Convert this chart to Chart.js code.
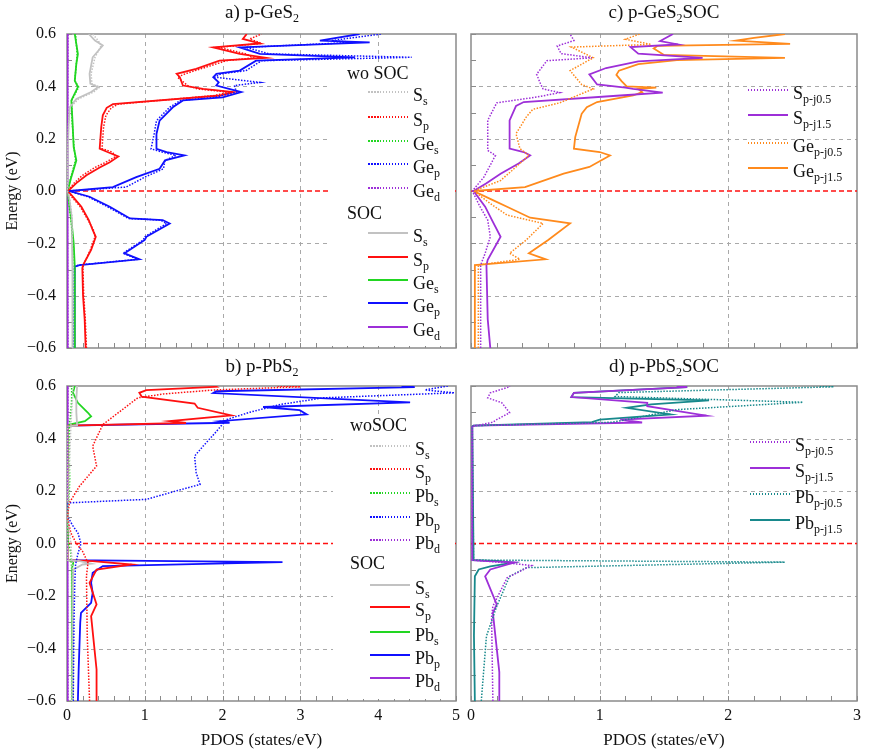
<!DOCTYPE html>
<html>
<head>
<meta charset="utf-8">
<script src="https://cdn.jsdelivr.net/npm/chart.js@4.4.1/dist/chart.umd.min.js"></script>
<style>
  body { margin: 0; background: #fff; }
  #page { position: relative; width: 869px; height: 755px; overflow: hidden; background: #fff;
          font-family: "Liberation Serif", "Times New Roman", serif; color: #111; }
  canvas { position: absolute; }
  .title { position: absolute; font-size: 19px; line-height: 19px; white-space: nowrap; transform: translateX(-50%); }
  .title sub, .lg sub { font-size: 12px; vertical-align: baseline; position: relative; top: 4px; }
  .lgbox { position: absolute; background: #fff; }
  .lg { position: absolute; font-size: 18px; line-height: 18px; white-space: nowrap; }
  .swatch { position: absolute; width: 40px; }
</style>
</head>
<body>
<div id="page">
  <canvas id="chartA" width="466" height="334" style="left:0;top:24px"></canvas>
  <canvas id="chartB" width="466" height="379" style="left:0;top:376px"></canvas>
  <canvas id="chartC" width="406" height="334" style="left:461px;top:24px"></canvas>
  <canvas id="chartD" width="406" height="379" style="left:461px;top:376px"></canvas>
</div>
<script>
// ============================================
// DATA  (energy in eV, PDOS in states/eV)
// ============================================
const fermiLevel = 0;
const pdosMaxLeft = 5;
const pdosMaxRight = 3;

// --- a) p-GeS2 : wo SOC (dotted) and SOC (solid) ---
const aE_Ss   = [-0.6, -0.3, -0.1, -0.03, 0, 0.05, 0.15, 0.25, 0.32, 0.352, 0.378, 0.397, 0.41, 0.448, 0.511, 0.556, 0.575, 0.6];
const aSs_wo  = [0.075, 0.075, 0.065, 0.035, 0.004, 0.008, 0.012, 0.02, 0.04, 0.15, 0.34, 0.42, 0.32, 0.31, 0.36, 0.44, 0.4, 0.33];
const aSs_soc = [0.07, 0.07, 0.06, 0.03, 0.004, 0.008, 0.012, 0.02, 0.034, 0.12, 0.31, 0.40, 0.3, 0.29, 0.33, 0.46, 0.36, 0.28];

const aE_Sp   = [-0.6, -0.49, -0.40, -0.295, -0.283, -0.225, -0.175, -0.149, -0.111, -0.06, -0.022, 0, 0.03, 0.06, 0.09, 0.11, 0.132, 0.149, 0.162, 0.244, 0.289, 0.318, 0.332, 0.365, 0.378, 0.39, 0.403, 0.435, 0.448, 0.467, 0.498, 0.509, 0.524, 0.549, 0.564, 0.581, 0.6];
const aSp_wo  = [0.25, 0.235, 0.215, 0.205, 0.21, 0.3, 0.36, 0.34, 0.27, 0.17, 0.06, 0.01, 0.09, 0.2, 0.36, 0.5, 0.63, 0.58, 0.45, 0.47, 0.5, 0.57, 0.66, 1.9, 2.08, 1.68, 1.55, 1.42, 1.52, 1.72, 2.05, 2.4, 2.3, 1.95, 2.5, 2.35, 2.5];
const aSp_soc = [0.24, 0.227, 0.206, 0.197, 0.206, 0.31, 0.37, 0.33, 0.28, 0.185, 0.077, 0.013, 0.12, 0.25, 0.42, 0.55, 0.66, 0.52, 0.42, 0.44, 0.46, 0.51, 0.59, 1.97, 2.14, 1.75, 1.49, 1.45, 1.41, 1.66, 1.96, 2.56, 2.22, 1.88, 2.48, 2.26, 2.31];

const aE_Ges   = [-0.6, -0.29, -0.2, -0.11, -0.04, 0, 0.054, 0.117, 0.168, 0.27, 0.346, 0.397, 0.422, 0.486, 0.524, 0.6];
const aGes_wo  = [0.095, 0.095, 0.08, 0.05, 0.02, 0.008, 0.05, 0.11, 0.09, 0.065, 0.06, 0.15, 0.1, 0.12, 0.13, 0.11];
const aGes_soc = [0.1, 0.1, 0.086, 0.056, 0.026, 0.008, 0.056, 0.12, 0.086, 0.07, 0.056, 0.14, 0.1, 0.12, 0.14, 0.1];

const aE_Gep   = [-0.6, -0.289, -0.283, -0.261, -0.238, -0.187, -0.175, -0.124, -0.111, -0.105, -0.06, -0.022, 0, 0.015, 0.053, 0.085, 0.117, 0.136, 0.149, 0.161, 0.218, 0.269, 0.32, 0.346, 0.358, 0.378, 0.403, 0.415, 0.435, 0.448, 0.46, 0.498, 0.511, 0.524, 0.549, 0.568, 0.575, 0.6];
const aGep_wo  = [0.085, 0.095, 0.15, 0.91, 0.72, 0.98, 1.0, 1.28, 1.2, 0.79, 0.52, 0.27, 0.02, 0.76, 1.0, 1.24, 1.26, 1.4, 1.22, 1.08, 1.12, 1.15, 1.32, 1.46, 1.9, 2.18, 2.15, 2.48, 1.9, 1.98, 2.3, 2.5, 4.43, 2.6, 2.3, 3.7, 3.4, 4.04];
const aGep_soc = [0.09, 0.099, 0.16, 0.93, 0.74, 1.0, 1.02, 1.32, 1.23, 0.81, 0.55, 0.29, 0.03, 0.59, 0.89, 1.19, 1.26, 1.51, 1.28, 1.15, 1.15, 1.19, 1.36, 1.49, 2.0, 2.24, 1.92, 1.95, 1.88, 1.92, 2.22, 2.43, 3.70, 2.48, 2.22, 3.89, 3.25, 3.76];

const aE_Ged   = [-0.6, 0, 0.6];
const aGed_wo  = [0.012, 0.004, 0.012];
const aGed_soc = [0.012, 0.004, 0.012];

// --- b) p-PbS2 ---
const bE_Ss_wo  = [-0.6, -0.1, 0, 0.1, 0.16, 0.3, 0.45, 0.6];
const bSs_wo    = [0.06, 0.07, 0.05, 0.01, 0.02, 0.03, 0.05, 0.08];
const bE_Ss_soc = [-0.6, -0.2, -0.1, -0.08, -0.077, -0.066, -0.063, 0.446, 0.45, 0.5, 0.55, 0.6];
const bSs_soc   = [0.07, 0.075, 0.08, 0.2, 0.31, 0.15, 0.01, 0.01, 0.13, 0.12, 0.12, 0.13];

const bE_Sp_wo  = [-0.6, -0.35, -0.124, -0.074, -0.03, 0, 0.04, 0.079, 0.1, 0.155, 0.218, 0.295, 0.371, 0.453, 0.555, 0.57, 0.585, 0.597, 0.6];
const bSp_wo    = [0.29, 0.26, 0.25, 0.27, 0.2, 0.12, 0.05, 0.02, 0.005, 0.03, 0.16, 0.38, 0.33, 0.46, 0.91, 1.25, 1.9, 3.0, 2.7];
const bE_Sp_soc = [-0.6, -0.48, -0.277, -0.232, -0.15, -0.099, -0.08, -0.067, -0.063, 0.446, 0.449, 0.459, 0.466, 0.488, 0.517, 0.533, 0.559, 0.574, 0.584, 0.597, 0.6];
const bSp_soc   = [0.38, 0.38, 0.31, 0.38, 0.29, 0.38, 0.83, 0.33, 0.01, 0.01, 0.02, 1.53, 1.32, 2.11, 1.68, 1.64, 0.96, 0.93, 1.02, 1.92, 1.9];

const bE_Pbs_wo  = [-0.6, -0.1, -0.036, 0, 0.05, 0.1, 0.16, 0.2, 0.25, 0.3, 0.37, 0.45, 0.5, 0.55, 0.6];
const bPbs_wo    = [0.06, 0.06, 0.05, 0.02, 0.01, 0.005, 0.02, 0.03, 0.035, 0.03, 0.03, 0.03, 0.05, 0.06, 0.06];
const bE_Pbs_soc = [-0.6, -0.2, -0.09, -0.074, -0.066, -0.063, 0.446, 0.453, 0.466, 0.484, 0.498, 0.536, 0.574, 0.6];
const bPbs_soc   = [0.07, 0.07, 0.065, 0.08, 0.05, 0.01, 0.01, 0.034, 0.23, 0.31, 0.27, 0.14, 0.077, 0.1];

const bE_Pbp_wo  = [-0.6, -0.3, -0.15, -0.08, -0.04, 0, 0.04, 0.07, 0.091, 0.105, 0.15, 0.155, 0.162, 0.168, 0.2, 0.225, 0.27, 0.333, 0.371, 0.42, 0.472, 0.5, 0.53, 0.555, 0.574, 0.585, 0.6];
const bPbp_wo    = [0.08, 0.09, 0.1, 0.11, 0.14, 0.18, 0.14, 0.07, 0.03, 0.004, 0.004, 0.03, 0.55, 1.02, 1.4, 1.71, 1.66, 1.64, 1.75, 1.9, 2.05, 2.35, 2.75, 3.3, 4.98, 4.6, 4.9];
const bE_Pbp_soc = [-0.6, -0.48, -0.302, -0.264, -0.226, -0.188, -0.15, -0.112, -0.086, -0.071, -0.063, 0.446, 0.449, 0.46, 0.466, 0.492, 0.508, 0.52, 0.538, 0.573, 0.58, 0.596, 0.6];
const bPbp_soc   = [0.14, 0.15, 0.17, 0.18, 0.31, 0.33, 0.31, 0.33, 0.46, 2.77, 0.01, 0.01, 0.02, 2.09, 1.96, 3.08, 2.99, 2.52, 4.41, 1.88, 1.92, 4.47, 4.3];

const bE_Pbd   = [-0.6, 0, 0.6];
const bPbd_wo  = [0.012, 0.004, 0.012];
const bPbd_soc = [0.012, 0.004, 0.012];

// --- c) p-GeS2 SOC, j-resolved ---
const cE_Sj05 = [-0.6, -0.283, -0.238, -0.175, -0.111, -0.06, 0, 0.053, 0.136, 0.155, 0.27, 0.337, 0.359, 0.376, 0.39, 0.41, 0.446, 0.498, 0.509, 0.525, 0.554, 0.575, 0.6];
const cSj05   = [0.075, 0.075, 0.11, 0.15, 0.13, 0.07, 0.01, 0.1, 0.19, 0.13, 0.13, 0.2, 0.51, 0.69, 0.56, 0.54, 0.51, 0.59, 0.94, 0.7, 0.67, 0.8, 0.77];
const cE_Sj15 = [-0.6, -0.49, -0.283, -0.263, -0.175, -0.118, -0.06, 0, 0.03, 0.066, 0.105, 0.136, 0.149, 0.162, 0.27, 0.325, 0.34, 0.365, 0.376, 0.39, 0.395, 0.407, 0.446, 0.47, 0.495, 0.509, 0.525, 0.55, 0.56, 0.573, 0.6];
const cSj15   = [0.15, 0.13, 0.12, 0.13, 0.23, 0.17, 0.11, 0.02, 0.12, 0.23, 0.37, 0.46, 0.41, 0.3, 0.3, 0.35, 0.41, 1.16, 1.49, 1.26, 1.2, 0.98, 0.92, 1.05, 1.3, 1.8, 1.3, 1.24, 1.61, 1.47, 1.57];
const cE_Gej05 = [-0.6, -0.283, -0.261, -0.238, -0.187, -0.124, -0.092, -0.048, 0, 0.04, 0.092, 0.136, 0.162, 0.219, 0.283, 0.312, 0.337, 0.376, 0.39, 0.407, 0.46, 0.509, 0.55, 0.56, 0.58, 0.6];
const cGej05   = [0.057, 0.057, 0.38, 0.30, 0.43, 0.56, 0.28, 0.15, 0.02, 0.23, 0.35, 0.45, 0.38, 0.35, 0.43, 0.48, 0.69, 0.88, 0.95, 0.86, 0.77, 0.95, 0.78, 1.4, 1.2, 1.31];
const cE_Gej15 = [-0.6, -0.283, -0.261, -0.238, -0.187, -0.124, -0.102, -0.06, -0.035, 0, 0.015, 0.066, 0.092, 0.136, 0.149, 0.162, 0.206, 0.295, 0.32, 0.34, 0.365, 0.378, 0.39, 0.395, 0.40, 0.42, 0.444, 0.46, 0.485, 0.50, 0.509, 0.52, 0.545, 0.555, 0.562, 0.575, 0.585, 0.6];
const cGej15   = [0.03, 0.03, 0.58, 0.45, 0.6, 0.77, 0.46, 0.28, 0.17, 0.02, 0.42, 0.72, 0.92, 1.08, 1.0, 0.80, 0.81, 0.86, 0.9, 0.98, 1.26, 1.33, 1.3, 1.44, 1.21, 1.17, 1.13, 1.15, 1.3, 1.6, 2.44, 1.5, 1.42, 1.45, 2.48, 2.06, 2.2, 2.44];

// --- d) p-PbS2 SOC, j-resolved ---
const dE_Sj05 = [-0.6, -0.279, -0.239, -0.131, -0.084, -0.074, -0.063, 0.446, 0.462, 0.472, 0.498, 0.536, 0.555, 0.574, 0.597, 0.6];
const dSj05   = [0.17, 0.16, 0.17, 0.28, 0.47, 0.28, 0.01, 0.01, 0.17, 0.2, 0.3, 0.24, 0.13, 0.15, 0.3, 0.3];
const dE_Sj15 = [-0.6, -0.49, -0.264, -0.232, -0.125, -0.099, -0.072, -0.066, -0.063, 0.446, 0.449, 0.461, 0.472, 0.487, 0.523, 0.536, 0.558, 0.574, 0.596, 0.6];
const dSj15   = [0.22, 0.22, 0.17, 0.2, 0.11, 0.15, 0.34, 0.1, 0.01, 0.01, 0.02, 1.33, 1.16, 1.83, 1.37, 1.37, 0.78, 0.8, 1.68, 1.6];
const dE_Pbj05 = [-0.6, -0.353, -0.239, -0.125, -0.092, -0.071, -0.063, 0.446, 0.449, 0.462, 0.49, 0.51, 0.538, 0.56, 0.575, 0.597, 0.6];
const dPbj05   = [0.08, 0.12, 0.2, 0.30, 0.43, 2.44, 0.02, 0.01, 0.02, 1.1, 1.4, 1.6, 2.58, 1.12, 1.15, 2.82, 2.7];
const dE_Pbj15 = [-0.6, -0.35, -0.125, -0.099, -0.087, -0.073, -0.066, -0.063, 0.446, 0.449, 0.462, 0.472, 0.492, 0.517, 0.53, 0.545, 0.558, 0.574, 0.596, 0.6];
const dPbj15   = [0.03, 0.023, 0.03, 0.06, 0.15, 0.33, 0.2, 0.02, 0.01, 0.02, 0.94, 1.0, 1.55, 1.21, 1.4, 1.85, 0.78, 0.80, 1.68, 1.6];

// legend labels: [base, subscript]
const legendGe = [['S', 's'], ['S', 'p'], ['Ge', 's'], ['Ge', 'p'], ['Ge', 'd']];
const legendPb = [['S', 's'], ['S', 'p'], ['Pb', 's'], ['Pb', 'p'], ['Pb', 'd']];
const legendGeJ = [['S', 'p-j0.5'], ['S', 'p-j1.5'], ['Ge', 'p-j0.5'], ['Ge', 'p-j1.5']];
const legendPbJ = [['S', 'p-j0.5'], ['S', 'p-j1.5'], ['Pb', 'p-j0.5'], ['Pb', 'p-j1.5']];

// ============================================
// STYLE
// ============================================
const GRAY = '#c2c2c2', RED = '#ff1010', GREEN = '#22d622', BLUE = '#1010ff',
      PURPLE = '#9d2fd8', ORANGE = '#ff8a1c', TEAL = '#18898c';
const FONT = '"Liberation Serif", "Times New Roman", serif';

function series(energies, values, color, dotted) {
    return {
        data: energies.map((e, i) => ({ x: values[i], y: e })),
        borderColor: color,
        borderWidth: dotted ? 1.5 : 1.8,
        borderDash: dotted ? [1.5, 1.5] : [],
        showLine: true,
        pointRadius: 0,
        tension: 0,
        fill: false
    };
}

function fermi(xMax) {
    return {
        data: [{ x: 0, y: fermiLevel }, { x: xMax, y: fermiLevel }],
        borderColor: RED, borderWidth: 1.6, borderDash: [5, 3],
        showLine: true, pointRadius: 0
    };
}

const near = (v, step) => Math.abs(v / step - Math.round(v / step)) < 1e-6;
const fmtE = v => (v < -1e-9 ? '\u2212' : '') + Math.abs(v).toFixed(1);

// gridlines, frame and inner tick marks, all from the chart's own scales
const framePlugin = {
    id: 'frame',
    beforeDatasetsDraw(chart) {
        const { ctx, chartArea: a, scales: { x, y } } = chart;
        ctx.save();
        ctx.strokeStyle = '#a9a9a9';
        ctx.lineWidth = 1;
        ctx.setLineDash([4, 4]);
        x.ticks.forEach(t => {
            if (!near(t.value, 1) || t.value <= x.min || t.value >= x.max) return;
            const px = Math.round(x.getPixelForValue(t.value)) + 0.5;
            ctx.beginPath(); ctx.moveTo(px, a.top); ctx.lineTo(px, a.bottom); ctx.stroke();
        });
        y.ticks.forEach(t => {
            if (!near(t.value, 0.2) || Math.abs(t.value) < 1e-6 || t.value <= y.min || t.value >= y.max) return;
            const py = Math.round(y.getPixelForValue(t.value)) + 0.5;
            ctx.beginPath(); ctx.moveTo(a.left, py); ctx.lineTo(a.right, py); ctx.stroke();
        });
        ctx.setLineDash([]);
        ctx.strokeStyle = '#8a8a8a';
        ctx.lineWidth = 1;
        y.ticks.forEach(t => {
            const py = Math.round(y.getPixelForValue(t.value)) + 0.5;
            ctx.beginPath(); ctx.moveTo(a.left, py); ctx.lineTo(a.left + 5, py); ctx.stroke();
        });
        x.ticks.forEach(t => {
            const px = Math.round(x.getPixelForValue(t.value)) + 0.5;
            ctx.beginPath(); ctx.moveTo(px, a.bottom); ctx.lineTo(px, a.bottom - 5); ctx.stroke();
        });
        ctx.lineWidth = 1.5;
        ctx.strokeRect(a.left, a.top, a.right - a.left, a.bottom - a.top);
        ctx.restore();
    }
};

function makeChart(id, datasets, xMax, showY, showX, padding) {
    const tickFont = { family: FONT, size: 16 };
    return new Chart(document.getElementById(id), {
        type: 'scatter',
        data: { datasets },
        options: {
            responsive: false,
            animation: false,
            events: [],
            layout: { padding },
            plugins: { legend: { display: false }, tooltip: { enabled: false } },
            scales: {
                x: {
                    type: 'linear', min: 0, max: xMax,
                    ticks: {
                        stepSize: 0.2, autoSkip: false, maxRotation: 0, display: showX,
                        padding: 5, color: '#111', font: tickFont,
                        callback: v => near(v, 1) ? String(Math.round(v)) : ''
                    },
                    grid: { display: false, drawTicks: false },
                    border: { display: false },
                    title: { display: showX, text: 'PDOS (states/eV)', color: '#111',
                             font: { family: FONT, size: 17 }, padding: { top: 0, bottom: 4 } },
                    afterFit: s => {
                        s.height = showX ? 54 : 0;
                        s.paddingLeft = 0; s.paddingRight = 0;
                    }
                },
                y: {
                    type: 'linear', min: -0.6, max: 0.6,
                    ticks: {
                        stepSize: 0.1, autoSkip: false, display: showY,
                        padding: 11, color: '#111', font: tickFont,
                        callback: v => near(v, 0.2) ? fmtE(v) : ''
                    },
                    grid: { display: false, drawTicks: false },
                    border: { display: false },
                    title: { display: showY, text: 'Energy (eV)', color: '#111',
                             font: { family: FONT, size: 16 }, padding: { top: 3, bottom: 0 } },
                    afterFit: s => {
                        s.width = showY ? 67 : 0;
                        s.paddingTop = 0; s.paddingBottom = 0;
                    }
                }
            }
        },
        plugins: [framePlugin]
    });
}

// ============================================
// CHARTS
// ============================================
makeChart('chartA', [
    series(aE_Ss, aSs_wo, GRAY, true),
    series(aE_Sp, aSp_wo, RED, true),
    series(aE_Ges, aGes_wo, GREEN, true),
    series(aE_Gep, aGep_wo, BLUE, true),
    series(aE_Ged, aGed_wo, PURPLE, true),
    series(aE_Ss, aSs_soc, GRAY, false),
    series(aE_Sp, aSp_soc, RED, false),
    series(aE_Ges, aGes_soc, GREEN, false),
    series(aE_Gep, aGep_soc, BLUE, false),
    series(aE_Ged, aGed_soc, PURPLE, false),
    fermi(pdosMaxLeft)
], pdosMaxLeft, true, false, { top: 10, right: 10, bottom: 10, left: 0 });

makeChart('chartB', [
    series(bE_Ss_wo, bSs_wo, GRAY, true),
    series(bE_Sp_wo, bSp_wo, RED, true),
    series(bE_Pbs_wo, bPbs_wo, GREEN, true),
    series(bE_Pbp_wo, bPbp_wo, BLUE, true),
    series(bE_Pbd, bPbd_wo, PURPLE, true),
    series(bE_Ss_soc, bSs_soc, GRAY, false),
    series(bE_Sp_soc, bSp_soc, RED, false),
    series(bE_Pbs_soc, bPbs_soc, GREEN, false),
    series(bE_Pbp_soc, bPbp_soc, BLUE, false),
    series(bE_Pbd, bPbd_soc, PURPLE, false),
    fermi(pdosMaxLeft)
], pdosMaxLeft, true, true, { top: 10, right: 10, bottom: 0, left: 0 });

makeChart('chartC', [
    series(cE_Sj05, cSj05, PURPLE, true),
    series(cE_Gej05, cGej05, ORANGE, true),
    series(cE_Sj15, cSj15, PURPLE, false),
    series(cE_Gej15, cGej15, ORANGE, false),
    fermi(pdosMaxRight)
], pdosMaxRight, false, false, { top: 10, right: 10, bottom: 10, left: 10 });

makeChart('chartD', [
    series(dE_Sj05, dSj05, PURPLE, true),
    series(dE_Pbj05, dPbj05, TEAL, true),
    series(dE_Sj15, dSj15, PURPLE, false),
    series(dE_Pbj15, dPbj15, TEAL, false),
    fermi(pdosMaxRight)
], pdosMaxRight, false, true, { top: 10, right: 10, bottom: 0, left: 10 });

// ============================================
// TITLES AND LEGENDS (html text)
// ============================================
const page = document.getElementById('page');
function addEl(cls, html, left, top, style) {
    const el = document.createElement('div');
    el.className = cls;
    el.innerHTML = html;
    el.style.left = left + 'px';
    el.style.top = top + 'px';
    if (style) Object.assign(el.style, style);
    page.appendChild(el);
    return el;
}

addEl('title', 'a) p-GeS<sub>2</sub>', 262, 2);
addEl('title', 'c) p-GeS<sub>2</sub>SOC', 664, 2);
addEl('title', 'b) p-PbS<sub>2</sub>', 262, 356);
addEl('title', 'd) p-PbS<sub>2</sub>SOC', 664, 356);

function legendEntry(x0, y, color, dotted, label) {
    const sw = dotted
        ? { height: '1.5px', background: 'repeating-linear-gradient(to right, ' + color + ' 0 1.5px, transparent 1.5px 3px)' }
        : { height: '2px', background: color };
    addEl('swatch', '', x0, y - 1, sw);
    addEl('lg', label[0] + '<sub>' + label[1] + '</sub>', x0 + 45, y - 6);
}

// a) legend box
addEl('lgbox', '', 328, 64, { width: '127px', height: '282px' });
addEl('lg', 'wo SOC', 347, 64);
const colorsGe = [GRAY, RED, GREEN, BLUE, PURPLE];
[92, 117, 141, 164, 188].forEach((y, i) => legendEntry(368, y, colorsGe[i], true, legendGe[i]));
addEl('lg', 'SOC', 347, 204);
[233, 257, 280, 303, 327].forEach((y, i) => legendEntry(368, y, colorsGe[i], false, legendGe[i]));

// b) legend box
addEl('lgbox', '', 333, 418, { width: '122px', height: '281px' });
addEl('lg', 'woSOC', 350, 416);
[446, 469, 493, 517, 540].forEach((y, i) => legendEntry(370, y, colorsGe[i], true, legendPb[i]));
addEl('lg', 'SOC', 350, 554);
[585, 607, 632, 655, 678].forEach((y, i) => legendEntry(370, y, colorsGe[i], false, legendPb[i]));

// c) and d) legends
const stylesJ = [[PURPLE, true], [PURPLE, false], [ORANGE, true], [ORANGE, false]];
[90, 115, 143, 168].forEach((y, i) => legendEntry(748, y, stylesJ[i][0], stylesJ[i][1], legendGeJ[i]));
const stylesPbJ = [[PURPLE, true], [PURPLE, false], [TEAL, true], [TEAL, false]];
[442, 468, 494, 520].forEach((y, i) => legendEntry(750, y, stylesPbJ[i][0], stylesPbJ[i][1], legendPbJ[i]));
</script>
</body>
</html>
